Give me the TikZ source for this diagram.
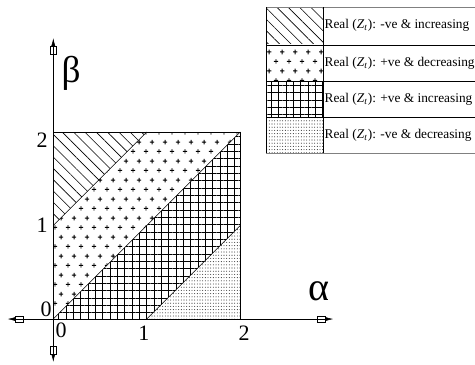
\documentclass[tikz,border=0pt]{standalone}
\usepackage{fontspec}
\setmainfont{Liberation Serif}
\usetikzlibrary{patterns,patterns.meta,arrows.meta}
% staggered plus signs
\pgfdeclarepatternformonly{plus signs}{\pgfqpoint{0pt}{0pt}}{\pgfqpoint{9.75pt}{14pt}}{\pgfqpoint{9.75pt}{14pt}}{%
  \pgfsetlinewidth{0.75pt}%
  \pgfpathmoveto{\pgfqpoint{0.7pt}{3.5pt}}\pgfpathlineto{\pgfqpoint{4.1pt}{3.5pt}}%
  \pgfpathmoveto{\pgfqpoint{2.4pt}{1.8pt}}\pgfpathlineto{\pgfqpoint{2.4pt}{5.2pt}}%
  \pgfpathmoveto{\pgfqpoint{5.575pt}{10.5pt}}\pgfpathlineto{\pgfqpoint{8.975pt}{10.5pt}}%
  \pgfpathmoveto{\pgfqpoint{7.275pt}{8.8pt}}\pgfpathlineto{\pgfqpoint{7.275pt}{12.2pt}}%
  \pgfusepath{stroke}}
% fine dots
\pgfdeclarepatternformonly{fine dots}{\pgfqpoint{-1pt}{-1pt}}{\pgfqpoint{1pt}{1pt}}{\pgfqpoint{2pt}{2.4pt}}{%
  \pgfpathcircle{\pgfqpoint{0pt}{0pt}}{0.42pt}\pgfusepath{fill}}
\definecolor{framegray}{HTML}{808080}

\begin{document}
\begin{tikzpicture}[x=70.125pt, y=70.125pt,
  axisarrow/.style={{Latex[length=6pt,width=3pt] Rectangle[open,length=6pt,width=4.6pt]}-{Rectangle[open,length=6pt,width=4.6pt] Latex[length=6pt,width=3pt]}},
  hatchfill/.style={pattern={Lines[angle=-45,distance=6pt,line width=0.45pt]}},
  plusfill/.style={pattern=plus signs},
  gridfill/.style={pattern={Hatch[angle=0,distance=5.5pt,line width=0.65pt]}},
  dotfill/.style={pattern=fine dots, pattern color=black!75},
  ticklabel/.style={font=\fontsize{16.5}{16.5}\selectfont, inner sep=0pt},
  legendtext/.style={font=\fontsize{10}{12}\selectfont, anchor=west, inner sep=1pt}]
  \useasboundingbox (-0.570,-0.481) rectangle (4.510,3.412);
  % Regions
  \fill[hatchfill] (0,1) -- (0,2) -- (1,2) -- cycle;
  \fill[plusfill]  (0,0) -- (0,1) -- (1,2) -- (2,2) -- cycle;
  \fill[gridfill]  (0,0) -- (2,2) -- (2,1) -- (1,0) -- cycle;
  \fill[dotfill]   (1,0) -- (2,1) -- (2,0) -- cycle;
  % Borders
  \draw[thin] (0,1) -- (1,2);
  \draw[thin] (0,0) -- (2,2);
  \draw[thin] (1,0) -- (2,1);
  \draw[semithick] (0,2) -- (2,2) -- (2,0);
  % Axes
  \coordinate (xl) at (-0.49,0);
  \coordinate (xr) at (2.995,0);
  \coordinate (yb) at (0,-0.46);
  \coordinate (yt) at (0,3.005);
  \draw[thin, axisarrow] (xl) -- (xr);
  \draw[thin, axisarrow] (yb) -- (yt);
  \node[font=\fontsize{28}{28}\selectfont] (beta) at (0.19,2.63) {β};
  \node[font=\fontsize{30}{30}\selectfont] (alpha) at (2.845,0.30) {α};
  % Tick labels
  \node[ticklabel] (y2) at (-0.12,1.91) {2};
  \node[ticklabel] (y1) at (-0.12,1.005) {1};
  \node[ticklabel] (y0) at (-0.078,0.107) {0};
  \node[ticklabel] (x0) at (0.083,-0.118) {0};
  \node[ticklabel] (x1) at (0.97,-0.15) {1};
  \node[ticklabel] (x2) at (2.04,-0.15) {2};
  % Legend
  \foreach \fillstyle/\yy/\legtext in {hatchfill/3.337/{-ve \& increasing},
      plusfill/2.930/{+ve \& decreasing}, gridfill/2.545/{+ve \& increasing},
      dotfill/2.160/{-ve \& decreasing}} {
    \fill[\fillstyle] (2.275,\yy) rectangle (2.885,\yy-0.385);
    \node[legendtext] at (2.885,\yy-0.1925) {Real (\textit{Z}\textsubscript{\textit{t}}): \legtext};
  }
  \draw[framegray] (2.275,3.337) -- (4.510,3.337);
  \draw[framegray] (2.275,1.775) -- (4.510,1.775);
  \foreach \yy in {2.930, 2.545, 2.160} {
    \draw (2.275,\yy) -- (4.510,\yy);
  }
  \draw (2.275,3.337) -- (2.275,1.775);
  \draw (2.885,3.337) -- (2.885,1.775);
\end{tikzpicture}
\end{document}
